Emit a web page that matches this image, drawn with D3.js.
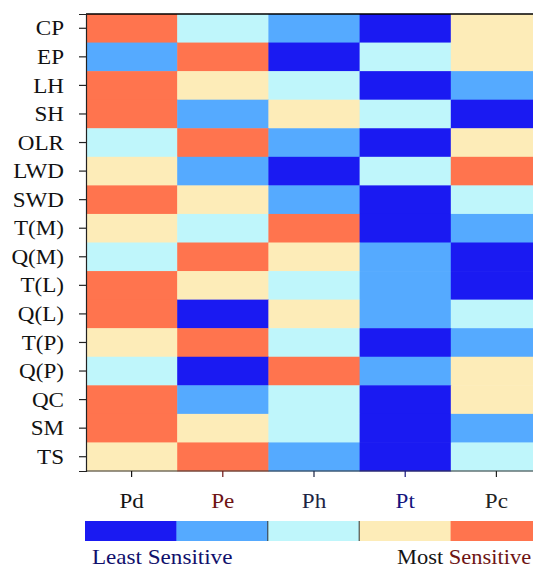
<!DOCTYPE html>
<html><head><meta charset="utf-8">
<script src="https://cdn.jsdelivr.net/npm/d3@7/dist/d3.min.js"></script>
<style>body{margin:0;background:#fff}svg{display:block}</style>
</head><body><svg id="c" width="533" height="570"></svg>
<script>
const rows = ["CP","EP","LH","SH","OLR","LWD","SWD","T(M)","Q(M)","T(L)","Q(L)","T(P)","Q(P)","QC","SM","TS"];
const cols = ["Pd","Pe","Ph","Pt","Pc"];
const colLabelColors = ["#141414","#6e1414","#1c2444","#14147e","#222222"];
// sensitivity level 1 (least) .. 5 (most), per row: Pd, Pe, Ph, Pt, Pc
const levels = [
  [5,3,2,1,4],
  [2,5,1,3,4],
  [5,4,3,1,2],
  [5,2,4,3,1],
  [3,5,2,1,4],
  [4,2,1,3,5],
  [5,4,2,1,3],
  [4,3,5,1,2],
  [3,5,4,2,1],
  [5,4,3,2,1],
  [5,1,4,2,3],
  [4,5,3,1,2],
  [3,1,5,2,4],
  [5,2,3,1,4],
  [5,4,3,1,2],
  [4,5,2,1,3]
];
const levelValues = [1,2,3,4,5];
const palette = ["#1a1af2","#55aaff","#bff6fb","#fdecb8","#ff744e"];

const svg = d3.select("#c");
const font = "'Liberation Serif','Times New Roman',serif";
function stretch(sx){
  return sel => sel.each(function(){
    const t = d3.select(this);
    const xx = +t.attr("x") || 0;
    t.attr("transform", `translate(${xx},0) scale(${sx},1) translate(${-xx},0)`);
  });
}
const x = d3.scaleBand().domain(cols).range([86, 542]);
const y = d3.scaleBand().domain(rows).range([14, 471]);
const color = d3.scaleOrdinal().domain(levelValues).range(palette);

const cells = [];
rows.forEach((r,i)=>cols.forEach((c,j)=>cells.push({r,c,v:levels[i][j]})));
svg.append("g").selectAll("rect").data(cells).join("rect")
  .attr("x",d=>x(d.c)).attr("y",d=>y(d.r))
  .attr("width",x.bandwidth()+0.5).attr("height",y.bandwidth()+0.5)
  .attr("fill",d=>color(d.v));

// frame
svg.append("line").attr("x1",86).attr("x2",542).attr("y1",14).attr("y2",14).attr("stroke","#000").attr("stroke-width",1.5);
svg.append("line").attr("x1",86).attr("x2",542).attr("y1",471).attr("y2",471).attr("stroke","#333").attr("stroke-width",1);

// left axis
const ya = svg.append("g").attr("transform","translate(86,0)")
  .call(d3.axisLeft(y).tickSize(7).tickPadding(15));
ya.select(".domain").attr("stroke","#222").attr("stroke-width",1.2);
ya.selectAll(".tick line").attr("stroke","#222").attr("stroke-width",1.2);
ya.selectAll(".tick text").attr("font-family",font).attr("font-size",21).attr("fill","#111")
  .attr("dy","0.34em").call(stretch(1.1));

// bottom axis
const xa = svg.append("g").attr("transform","translate(0,471)")
  .call(d3.axisBottom(x).tickSize(6).tickPadding(16));
xa.select(".domain").remove();
xa.selectAll(".tick line").attr("stroke",(d,i)=>colLabelColors[i]).attr("stroke-width",1.2);
xa.selectAll(".tick text").attr("font-family",font).attr("font-size",21)
  .attr("fill",(d,i)=>colLabelColors[i]).call(stretch(1.1));

// legend bar
const lx = d3.scaleBand().domain(levelValues).range([85, 542]);
svg.append("g").selectAll("rect").data(levelValues).join("rect")
  .attr("x",d=>lx(d)).attr("y",521).attr("width",lx.bandwidth()+0.5).attr("height",20)
  .attr("fill",d=>color(d));
[3,4].forEach(v=>svg.append("line").attr("x1",lx(v)).attr("x2",lx(v)).attr("y1",521).attr("y2",541)
  .attr("stroke","#333").attr("stroke-width",1));

svg.append("text").attr("x",92).attr("y",564).attr("font-family",font).attr("font-size",21)
  .attr("fill","#10106c").text("Least Sensitive").call(stretch(1.1));
const mt = svg.append("text").attr("x",397).attr("y",564).attr("font-family",font).attr("font-size",21);
mt.append("tspan").attr("fill","#141414").text("Most ");
mt.append("tspan").attr("fill","#6e1414").text("Sensitive");
mt.call(stretch(1.07));
</script></body></html>
